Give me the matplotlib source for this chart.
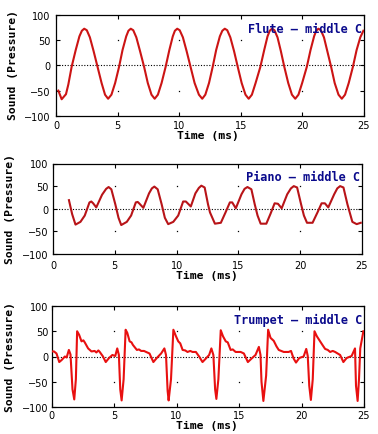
import matplotlib
matplotlib.use("Agg")
import matplotlib.pyplot as plt

# ---------------- data ----------------
flute_t = [0.19, 0.46, 0.81, 1.0, 1.27, 1.6, 1.9, 2.1, 2.29, 2.5, 2.75, 3.05, 3.37, 3.7, 3.98,
           4.23, 4.5, 4.8, 5.12, 5.4, 5.7, 5.88, 6.07, 6.27, 6.52, 6.82, 7.15, 7.45, 7.75,
           8.01, 8.27, 8.57, 8.9, 9.2, 9.48, 9.65, 9.84, 10.04, 10.3, 10.6, 10.92, 11.25, 11.6,
           11.87, 12.12, 12.42, 12.72, 13.0, 13.3, 13.5, 13.7, 13.9, 14.15, 14.45, 14.75, 15.07, 15.38,
           15.64, 15.9, 16.2, 16.59, 16.9, 17.17, 17.35, 17.53, 17.73, 17.98, 18.25, 18.53, 18.85, 19.15,
           19.42, 19.68, 19.98, 20.36, 20.66, 20.95, 21.12, 21.3, 21.5, 21.75, 22.02, 22.33, 22.62, 22.93,
           23.2, 23.46, 23.76, 24.1, 24.4, 24.7, 24.95]
flute_v = [-50, -67, -57, -38, -3, 30, 57, 68, 72, 69, 55, 28, -3, -35, -58,
           -66, -58, -35, -3, 30, 57, 68, 72, 69, 55, 28, -3, -35, -58,
           -66, -58, -35, -3, 30, 57, 68, 72, 69, 55, 28, -3, -35, -58,
           -66, -58, -35, -3, 30, 57, 68, 72, 69, 55, 28, -3, -35, -58,
           -66, -58, -35, -3, 30, 57, 68, 72, 69, 55, 28, -3, -35, -58,
           -66, -58, -35, -3, 30, 57, 68, 72, 69, 55, 28, -3, -35, -58,
           -66, -58, -35, -3, 30, 55, 68]

piano_t = [1.29, 1.55, 1.82, 2.22, 2.57, 2.95, 3.1, 3.25, 3.5, 3.97, 4.3, 4.5, 4.72, 5.04, 5.3, 5.52,
           5.97, 6.32, 6.7, 6.85, 6.97, 7.31, 7.77, 8.0, 8.2, 8.47, 8.79, 9.05, 9.32,
           9.73, 10.13, 10.53, 10.75, 11.15, 11.52, 11.8, 12.0, 12.27, 12.54, 12.7, 13.1,
           13.58, 13.96, 14.31, 14.5, 14.79, 15.25, 15.5, 15.73, 16.05, 16.32, 16.55, 16.8,
           17.26, 17.6, 17.93, 18.2, 18.5, 18.95, 19.25, 19.48, 19.75, 20.07, 20.3, 20.55,
           21.0, 21.4, 21.73, 22.0, 22.27, 22.75, 23.0, 23.23, 23.5, 23.82, 24.22, 24.57, 24.9]
piano_v = [19, -12, -35, -29, -15, 14, 16, 12, 3, 31, 44, 48, 43, 10, -20, -36,
           -29, -15, 14, 15, 12, 2, 34, 45, 49, 43, 10, -20, -34,
           -29, -15, 16, 16, 5, 34, 46, 51, 47, 10, -8, -33,
           -31, -8, 14, 14, 1, 32, 44, 48, 43, 10, -15, -33,
           -33, -11, 12, 11, 1, 32, 45, 50, 47, 10, -15, -31,
           -31, -8, 12, 12, 3, 32, 45, 50, 47, 10, -29, -34, -31]

trumpet_t = [0.0, 0.2, 0.4, 0.62, 0.81, 1.07, 1.21, 1.39, 1.52, 1.68, 1.82, 1.95, 2.05, 2.21, 2.4,
             2.55, 2.66, 2.93, 3.2, 3.45, 3.59, 3.75, 3.86, 4.12, 4.34, 4.6, 4.87, 5.1, 5.26,
             5.39, 5.5, 5.61, 5.77, 5.93, 6.06, 6.25, 6.4, 6.51, 6.83, 7.0, 7.17, 7.4, 7.57,
             7.84, 8.15, 8.42, 8.77, 9.03, 9.16, 9.29, 9.37, 9.56, 9.75, 9.96, 10.14, 10.3,
             10.49, 10.7, 10.88, 11.1, 11.28, 11.55, 11.81, 12.08, 12.35, 12.61, 12.79, 12.95,
             13.09, 13.19, 13.35, 13.54, 13.72, 13.94, 14.1, 14.33, 14.5, 14.73, 15.13, 15.39,
             15.71, 16.05, 16.32, 16.59, 16.72, 16.8, 16.95, 17.17, 17.33, 17.52, 17.78, 18.0,
             18.18, 18.58, 18.97, 19.16, 19.37, 19.56, 19.82, 20.17, 20.38, 20.5, 20.62, 20.75,
             20.9, 21.04, 21.23, 21.49, 21.7, 21.89, 22.1, 22.29, 22.5, 22.69, 23.09, 23.35,
             23.61, 24.01, 24.28, 24.36, 24.49, 24.6, 24.7, 24.95]
trumpet_v = [10, 10, 6, -11, -7, 0, -2, 13, 4, -65, -85, -45, 50, 43, 30,
             32, 28, 16, 10, 11, 8, 12, 9, 0, -11, -3, 3, 1, 16,
             3, -65, -87, -45, 53, 47, 30, 28, 23, 13, 14, 11, 11, 9,
             6, -11, -3, 6, 16, 3, -68, -87, -45, 53, 40, 30, 26,
             13, 12, 9, 11, 9, 9, 0, -11, -4, 3, 16, 3,
             -65, -84, -45, 52, 40, 30, 28, 13, 14, 9, 9, 6,
             -11, -3, 3, 19, 3, -50, -88, -38, 53, 37, 31, 20,
             13, 9, 9, 11, -4, -12, -3, 0, 15, 1, -58, -86,
             -45, 50, 40, 30, 22, 15, 13, 9, 11, 9, 3, -11,
             -3, 1, 16, -58, -88, -45, 16, 50]

titles = ["Flute \u2013 middle C", "Piano \u2013 middle C", "Trumpet \u2013 middle C"]
xticks = [0, 5, 10, 15, 20, 25]
yticks = [-100, -50, 0, 50, 100]
xlabel = "Time (ms)"
ylabel = "Sound (Pressure)"

# ---------------- layout ----------------
W, H = 378, 435
fig = plt.figure(figsize=(W / 100, H / 100), dpi=100)
fig.patch.set_facecolor("white")

# pixel boxes: left, right, top, bottom
boxes = [(56, 364, 15.5, 117), (53, 362, 164.5, 255), (51.5, 364, 307, 408)]
colors = ["#cc1414", "#b81418", "#e81010"]
ylab_pos = [(13, 65), (10, 209), (10, 357)]
xlab_pos = [(208, 136), (207, 276), (207, 426)]
ypads = [4.2, 3.4, 2.4]
xpads = [3.2, 4.2, 2.4]
series = [(flute_t, flute_v), (piano_t, piano_v), (trumpet_t, trumpet_v)]

bold_mono = dict(family="DejaVu Sans Mono", weight="bold", size=8.2)

for i, (l, r, t, b) in enumerate(boxes):
    ax = fig.add_axes([l / W, 1 - b / H, (r - l) / W, (b - t) / H])
    ax.set_xlim(0, 25)
    ax.set_ylim(-100, 100)
    ax.set_xticks(xticks)
    ax.set_yticks(yticks)
    ax.tick_params(direction="in", length=3, width=0.8, top=True, right=True,
                   labelsize=7, colors="black")
    ax.tick_params(axis="y", pad=ypads[i])
    ax.tick_params(axis="x", pad=xpads[i])
    for s in ax.spines.values():
        s.set_linewidth(0.9)
        s.set_color("black")
    # dotted zero line
    ax.axhline(0, color="black", linestyle=(0, (1, 1.5)), linewidth=0.8, zorder=1)
    # grid dots at tick intersections
    gx = [x for x in xticks[1:-1] for _ in (0, 1)]
    gy = [y for _ in xticks[1:-1] for y in (50, -50)]
    ax.plot(gx, gy, linestyle="none", marker="s", markersize=0.9, color="black",
            markeredgewidth=0, zorder=1)
    tt, vv = series[i]
    ax.plot(tt, vv, color=colors[i], linewidth=1.5, zorder=3)
    ax.text(0.995, 0.93, titles[i], transform=ax.transAxes, ha="right", va="top",
            color="#0a0a8c", fontsize=8.6, family="DejaVu Sans Mono", weight="bold", zorder=4)
    fig.text(xlab_pos[i][0] / W, 1 - xlab_pos[i][1] / H, xlabel, ha="center", va="center",
             **bold_mono)
    fig.text(ylab_pos[i][0] / W, 1 - ylab_pos[i][1] / H, ylabel, ha="center", va="center",
             rotation=90, **bold_mono)

fig.savefig("out.png", dpi=100)
